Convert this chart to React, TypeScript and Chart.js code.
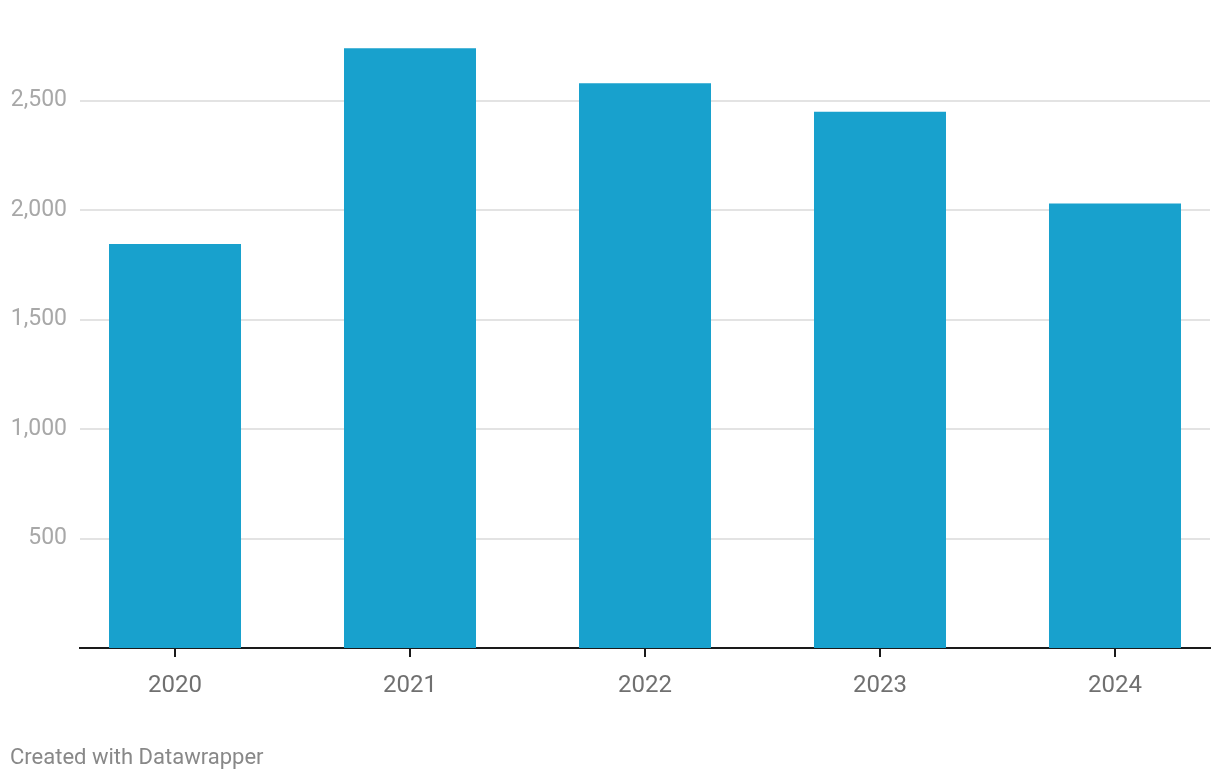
import React, { useEffect, useRef } from "react";
import { Chart, registerables } from "chart.js";

Chart.register(...registerables);

const categories: string[] = ["2020", "2021", "2022", "2023", "2024"];
const values: number[] = [1845, 2740, 2580, 2450, 2030];
const yTickValues: number[] = [500, 1000, 1500, 2000, 2500];
const footerText = "Created with Datawrapper";

const BAR_COLOR = "#18a1cd";
const FONT = "Roboto, 'Noto Sans', sans-serif";

export default function App() {
  const canvasRef = useRef<HTMLCanvasElement | null>(null);

  useEffect(() => {
    const canvas = canvasRef.current;
    if (!canvas) return;
    const chart = new Chart(canvas, {
      type: "bar",
      data: {
        datasets: [
          {
            data: values.map((v, i) => ({ x: i, y: v })),
            backgroundColor: BAR_COLOR,
            borderWidth: 0,
            barPercentage: 0.5617,
            categoryPercentage: 1,
          },
        ],
      },
      options: {
        animation: false,
        responsive: false,
        devicePixelRatio: 1,
        layout: { padding: { left: 0, right: 10, top: 35, bottom: 72 } },
        plugins: {
          legend: { display: false },
          tooltip: { enabled: false },
          title: { display: false },
        },
        scales: {
          x: {
            type: "linear",
            offset: false,
            min: -0.4043,
            max: 4.4043,
            afterBuildTicks: (axis: any) => {
              axis.ticks = categories.map((_, i) => ({ value: i }));
            },
            afterFit: (axis: any) => {
              axis.height = 60;
            },
            grid: {
              display: true,
              offset: false,
              drawOnChartArea: false,
              drawTicks: true,
              tickLength: 9,
              color: "#1a1a1a",
              lineWidth: 2,
            },
            border: { display: true, color: "#1a1a1a", width: 2 },
            ticks: {
              autoSkip: false,
              maxRotation: 0,
              padding: 15,
              color: "#707070",
              font: { family: FONT, size: 24 },
              callback: (v: any) => {
                const i = Math.round(Number(v));
                return Math.abs(Number(v) - i) < 1e-6 ? categories[i] ?? "" : "";
              },
            },
          },
          y: {
            type: "linear",
            min: 0,
            max: 2800,
            afterBuildTicks: (axis: any) => {
              axis.ticks = yTickValues.map((v) => ({ value: v }));
            },
            afterFit: (axis: any) => {
              axis.width = 80;
            },
            grid: {
              display: true,
              drawTicks: false,
              color: "#e3e3e3",
              lineWidth: 2,
            },
            border: { display: false },
            ticks: {
              padding: 13,
              color: "#a8a8a8",
              font: { family: FONT, size: 23 },
              callback: (v: any) => Number(v).toLocaleString("en-US"),
            },
          },
        },
      },
    });
    return () => chart.destroy();
  }, []);

  return (
    <div
      style={{
        position: "fixed",
        left: 0,
        top: 0,
        width: 1220,
        height: 780,
        background: "#ffffff",
        overflow: "hidden",
      }}
    >
      <canvas
        ref={canvasRef}
        width={1220}
        height={780}
        style={{ position: "absolute", left: 0, top: 0, width: 1220, height: 780 }}
      />
      <div
        style={{
          position: "absolute",
          left: 10,
          top: 742,
          fontFamily: FONT,
          fontSize: 22,
          lineHeight: "30px",
          color: "#888888",
          whiteSpace: "nowrap",
        }}
      >
        {footerText}
      </div>
    </div>
  );
}
